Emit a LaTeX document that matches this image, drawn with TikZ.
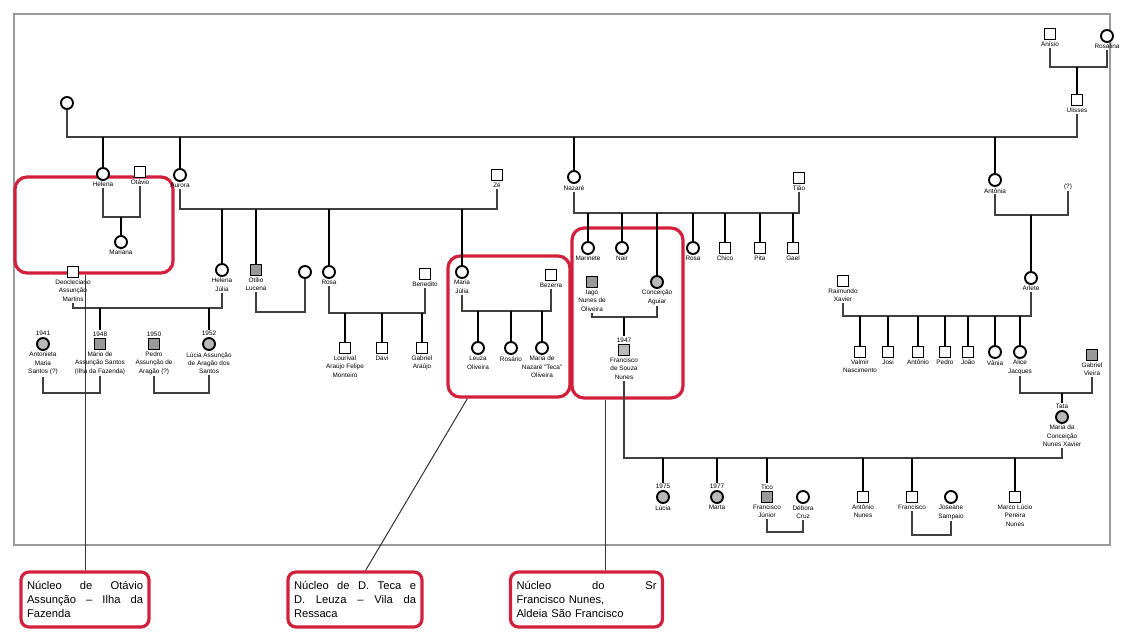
\documentclass[tikz,border=0pt]{standalone}
\usepackage{fontspec}
\setmainfont{Liberation Sans}
\usetikzlibrary{positioning}
\definecolor{nucleo}{HTML}{D21F3C}
\definecolor{moldura}{HTML}{9A9A9A}
\newcommand{\jl}[1]{\makebox[\hsize][s]{\spaceskip=.3em plus 1fil\relax #1}}
\tikzset{
  pess/.style={draw, line width=0.95pt, inner sep=0pt, minimum size=5.5pt, fill=white},
  masc/.style={pess, rectangle},
  fem/.style={pess, circle, minimum size=6pt},
  gy/.style={fill=gray!55},
  dk/.style={fill=gray!80},
  nm/.style={font=\fontsize{3.2}{4.2}\selectfont, align=center, inner sep=0.5pt},
  nl/.style 2 args={label={[nm,name=#1]below:{#2}}},
  ano/.style 2 args={label={[nm,name=#1]above:{#2}}},
  tie/.style={draw=black!75, line width=0.9pt},
  drop/.style={line width=1.2pt},
  nuc/.style={draw=nucleo, line width=1.6pt, rounded corners=6pt, inner sep=0pt},
  nota/.style={nuc, rounded corners=4pt, inner sep=3pt, minimum height=27.5pt, font=\fontsize{5.6}{6.8}\selectfont, align=left},
  ptr/.style={draw=black!80, line width=0.5pt}
}

\begin{document}
\begin{tikzpicture}[x=0.5pt, y=-0.5pt]
\useasboundingbox (0,0) rectangle (1124,632);
\draw[moldura, line width=0.6pt] (14,14) rectangle (1110,545);

% nucleos
\node[nuc, minimum width=79pt, minimum height=48pt] (nA) at (94,225) {};
\node[nuc, minimum width=61pt, minimum height=70.5pt] (nB) at (509,326.5) {};
\node[nuc, minimum width=55.5pt, minimum height=85pt] (nC) at (627.5,313) {};

% geracao 0
\node[fem] (g0a) at (67,103) {};
\node[masc, nl={g0bL}{Ulisses}] (g0b) at (1077,100) {};
\node[masc, nl={paiL}{Anísio}] (pai) at (1050,34) {};
\node[fem, nl={maeL}{Rosalina}] (mae) at (1107,36) {};
\coordinate (tA) at (1077,67);
\draw[tie] (paiL.south) |- (tA) -| (maeL.south);
\draw[drop] (tA) -- (g0b.north);
\coordinate (t0) at (570,137);
\draw[tie] (g0a.south) |- (t0) -| (g0bL.south);

% geracao 1
\node[fem, nl={c1L}{Helena}] (c1) at (103,174) {};
\node[fem, nl={c2L}{Aurora}] (c2) at (180,175) {};
\node[fem, nl={c3L}{Nazaré}] (c3) at (574,177) {};
\node[fem, nl={c4L}{Antônia}] (c4) at (995,180) {};
\foreach \c in {c1,c2,c3,c4} \draw[drop] (\c |- t0) -- (\c.north);
\node[masc, nl={s1L}{Otávio}] (s1) at (140,172) {};
\node[masc, nl={s2L}{Zé}] (s2) at (497,175) {};
\node[masc, nl={s3L}{Tião}] (s3) at (799,178) {};
\node[nm] (s4) at (1068,187) {(?)};
\coordinate (t1) at (121,217);
\coordinate (t2) at (340,209);
\coordinate (t3) at (690,213);
\coordinate (t4) at (1031,215);
\draw[tie] (c1L.south) |- (t1) -| (s1L.south);
\draw[tie] (c2L.south) |- (t2) -| (s2L.south);
\draw[tie] (c3L.south) |- (t3) -| (s3L.south);
\draw[tie] (c4L.south) |- (t4) -| (s4.south);

\node[fem, nl={d1L}{Mariana}] (d1) at (121,242) {};
\draw[drop] (d1 |- t1) -- (d1.north);

% geracao 2, ramo de Aurora
\node[fem, nl={e1L}{Helena\\Júlia}] (e1) at (222,270) {};
\node[masc, dk, nl={e2L}{Otílio\\Lucena}] (e2) at (256,270) {};
\node[fem, nl={e3L}{Rosa}] (e3) at (329,272) {};
\node[fem, nl={e4L}{Maria\\Júlia}] (e4) at (462,272) {};
\foreach \c in {e1,e2,e3,e4} \draw[drop] (\c |- t2) -- (\c.north);

\node[masc, nl={f1L}{Deocleciano\\Assunção\\Martins}] (f1) at (73,272) {};
\coordinate (t5) at (150,308);
\draw[tie] (f1L.south) |- (t5) -| (e1L.south);
\node[fem, gy, nl={k1L}{Antonieta\\Maria\\Santos (?)}, ano={k1Y}{1941}] (k1) at (43,344) {};
\node[masc, dk, nl={k2L}{Mário de\\Assunção Santos\\(Ilha da Fazenda)}, ano={k2Y}{1948}] (k2) at (100,344) {};
\node[masc, dk, nl={k3L}{Pedro\\Assunção de\\Aragão (?)}, ano={k3Y}{1950}] (k3) at (154,344) {};
\node[fem, gy, nl={k4L}{Lúcia Assunção\\de Aragão dos\\Santos}, ano={k4Y}{1952}] (k4) at (209,344) {};
\foreach \c in {k2Y,k4Y} \draw[drop] (\c |- t5) -- (\c.north);
\coordinate (t13) at (70,393);
\coordinate (t14) at (180,393);
\draw[tie] (k1L.south) |- (t13) -| (k2L.south);
\draw[tie] (k3L.south) |- (t14) -| (k4L.south);

\node[fem] (e2s) at (305,272) {};
\coordinate (t6) at (280,312);
\draw[tie] (e2L.south) |- (t6) -| (e2s.south);

\node[masc, nl={e3sL}{Benedito}] (e3s) at (425,274) {};
\coordinate (t7) at (380,313);
\draw[tie] (e3L.south) |- (t7) -| (e3sL.south);
\node[masc, nl={h1L}{Lourival\\Araújo Felipe\\Monteiro}] (h1) at (345,348) {};
\node[masc, nl={h2L}{Davi}] (h2) at (382,348) {};
\node[masc, nl={h3L}{Gabriel\\Araújo}] (h3) at (422,348) {};
\foreach \c in {h1,h2,h3} \draw[drop] (\c |- t7) -- (\c.north);

\node[masc, nl={e4sL}{Bezerra}] (e4s) at (551,275) {};
\coordinate (t8) at (510,311);
\draw[tie] (e4L.south) |- (t8) -| (e4sL.south);
\node[fem, nl={l1L}{Leuza\\Oliveira}] (l1) at (478,348) {};
\node[fem, nl={l2L}{Rosário}] (l2) at (511,348) {};
\node[fem, nl={l3L}{Maria de\\Nazaré ``Teca''\\Oliveira}] (l3) at (542,348) {};
\foreach \c in {l1,l2,l3} \draw[drop] (\c |- t8) -- (\c.north);

% geracao 2, ramo de Nazare
\node[fem, nl={n1L}{Marinete}] (n1) at (588,248) {};
\node[fem, nl={n2L}{Nair}] (n2) at (622,248) {};
\node[fem, gy, nl={n3L}{Conceição\\Aguiar}] (n3) at (657,282) {};
\node[fem, nl={n4L}{Rosa}] (n4) at (693,248) {};
\node[masc, nl={n5L}{Chico}] (n5) at (725,248) {};
\node[masc, nl={n6L}{Pita}] (n6) at (760,248) {};
\node[masc, nl={n7L}{Gael}] (n7) at (793,248) {};
\foreach \c in {n1,n2,n3,n4,n5,n6,n7} \draw[drop] (\c |- t3) -- (\c.north);

\node[masc, dk, nl={iagoL}{Iago\\Nunes de\\Oliveira}] (iago) at (592,282) {};
\coordinate (t9) at (624,317);
\draw[tie] (iagoL.south) |- (t9) -| (n3L.south);
\node[masc, gy, nl={fraL}{Francisco\\de Souza\\Nunes}, ano={fraY}{1947}] (fra) at (624,350) {};
\draw[drop] (t9) -- (fraY.north);

% geracao 2, ramo de Antonia
\node[fem, nl={g1L}{Arlete}] (g1) at (1031,278) {};
\draw[drop] (g1 |- t4) -- (g1.north);
\node[masc, nl={raiL}{Raimundo\\Xavier}] (rai) at (843,281) {};
\coordinate (t10) at (940,316);
\draw[tie] (raiL.south) |- (t10) -| (g1L.south);
\node[masc, nl={r1L}{Valmir\\Nascimento}] (r1) at (860,352) {};
\node[masc, nl={r2L}{Josi}] (r2) at (888,352) {};
\node[masc, nl={r3L}{Antônio}] (r3) at (918,352) {};
\node[masc, nl={r4L}{Pedro}] (r4) at (945,352) {};
\node[masc, nl={r5L}{João}] (r5) at (968,352) {};
\node[fem, nl={r6L}{Vânia}] (r6) at (995,352) {};
\node[fem, nl={r7L}{Alice\\Jacques}] (r7) at (1020,352) {};
\foreach \c in {r1,r2,r3,r4,r5,r6,r7} \draw[drop] (\c |- t10) -- (\c.north);

\node[masc, dk, nl={gabL}{Gabriel\\Vieira}] (gab) at (1092,355) {};
\coordinate (t11) at (1062,393);
\draw[tie] (r7L.south) |- (t11) -| (gabL.south);
\node[fem, gy, nl={mcL}{Maria da\\Conceição\\Nunes Xavier}, ano={mcY}{Tata}] (mc) at (1062,417) {};
\draw[drop] (t11) -- (mcY.north);

% geracao 3, filhos de Francisco
\coordinate (t12) at (840,458);
\draw[tie] (fraL.south) |- (t12) -| (mcL.south);
\node[fem, gy, nl={q1L}{Lúcia}, ano={q1Y}{1975}] (q1) at (663,497) {};
\node[fem, gy, nl={q2L}{Marta}, ano={q2Y}{1977}] (q2) at (717,497) {};
\node[masc, dk, nl={q3L}{Francisco\\Júnior}, ano={q3Y}{Tico}] (q3) at (767,497) {};
\node[masc, nl={q4L}{Antônio\\Nunes}] (q4) at (863,497) {};
\node[masc, nl={q5L}{Francisco}] (q5) at (912,497) {};
\node[masc, nl={q6L}{Marco Lúcio\\Pereira\\Nunes}] (q6) at (1015,497) {};
\foreach \c in {q1Y,q2Y,q3Y,q4,q5,q6} \draw[drop] (\c |- t12) -- (\c.north);
\node[fem, nl={q3sL}{Débora\\Cruz}] (q3s) at (803,497) {};
\node[fem, nl={q5sL}{Joseane\\Sampaio}] (q5s) at (951,497) {};
\coordinate (t15) at (785,532);
\coordinate (t16) at (930,535);
\draw[tie] (q3L.south) |- (t15) -| (q3sL.south);
\draw[tie] (q5L.south) |- (t16) -| (q5sL.south);

% notas
\node[nota, text width=58pt] (nt1) at (85,599.5) {\jl{Núcleo de Otávio}\\\jl{Assunção – Ilha da}\\Fazenda};
\node[nota, text width=61pt] (nt2) at (355,599.5) {\jl{Núcleo de D. Teca e}\\\jl{D. Leuza – Vila da}\\Ressaca};
\node[nota, text width=70pt] (nt3) at (586.5,599.5) {\jl{Núcleo do Sr}\\Francisco Nunes,\\Aldeia São Francisco};
\draw[ptr] (nt1.north) -- (nt1.north |- nA.south);
\draw[ptr] (nt2.70) -- (nB.240);
\draw[ptr] (nt3.north -| nC.256) -- (nC.256);
\end{tikzpicture}
\end{document}
